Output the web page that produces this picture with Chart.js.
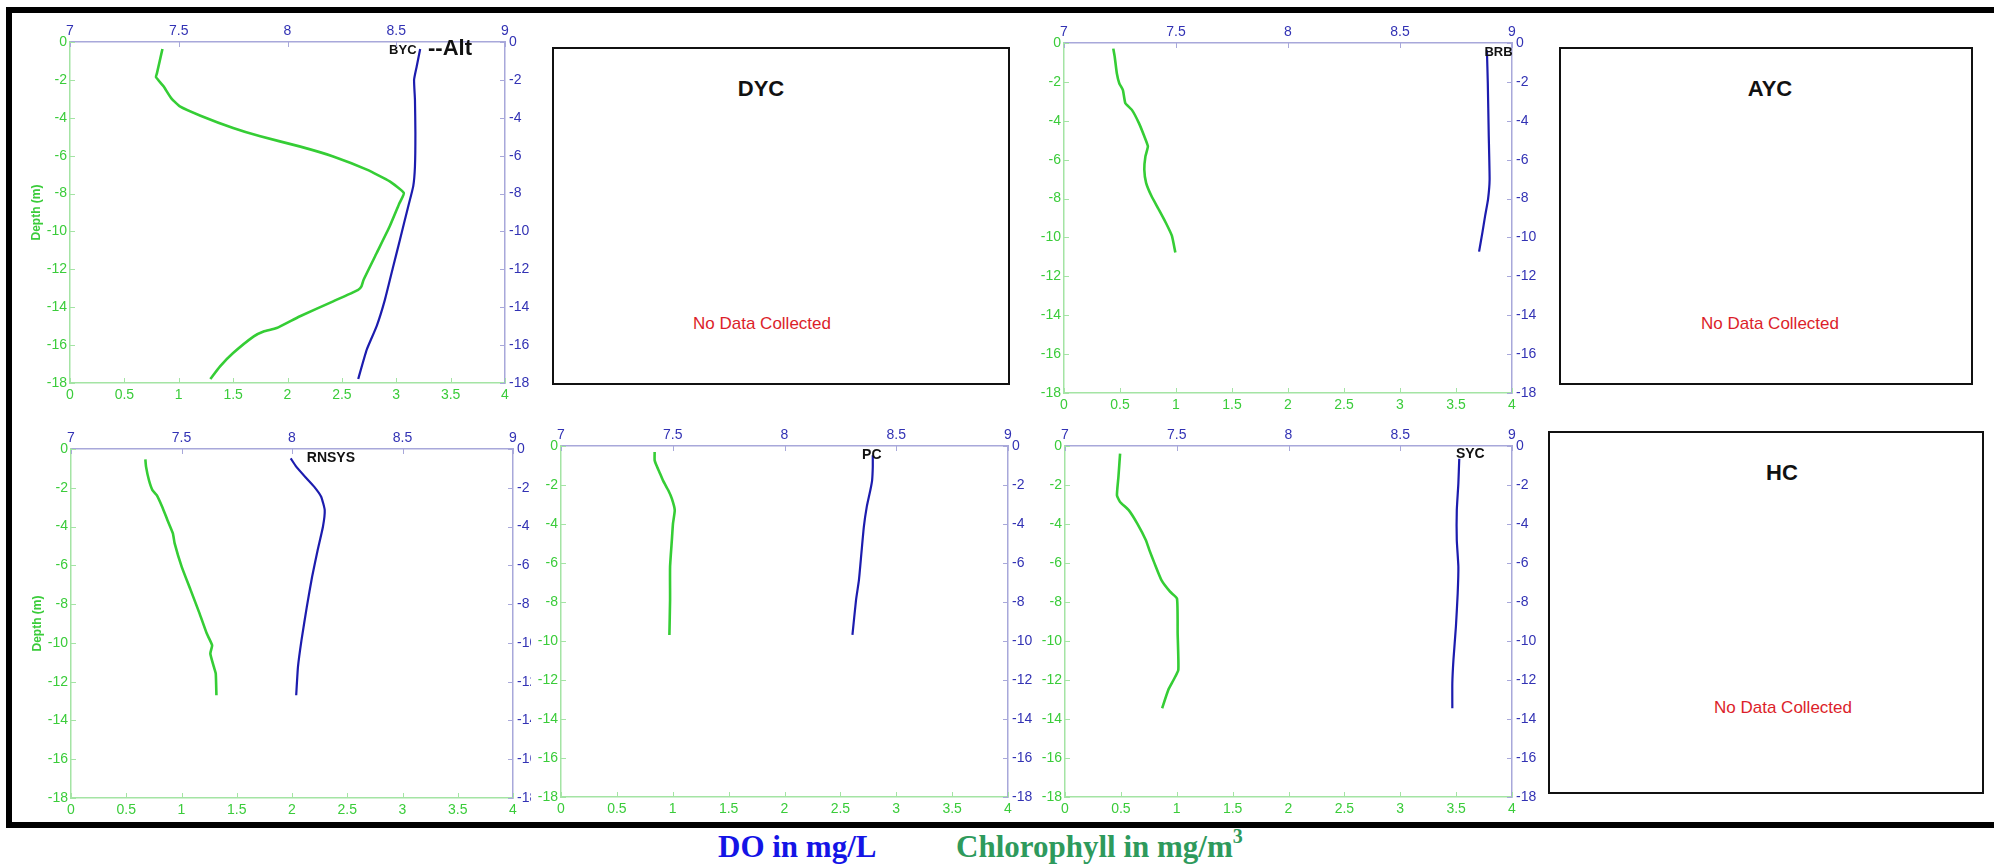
<!DOCTYPE html>
<html lang="en">
<head>
<meta charset="UTF-8">
<title>DO and Chlorophyll depth profiles</title>
<script src="https://cdn.jsdelivr.net/npm/chart.js"></script>
<style>
  body { margin: 0; background: #fff; width: 1994px; height: 864px; position: relative; overflow: hidden;
         font-family: 'Liberation Sans', Arial, sans-serif; }
  canvas { position: absolute; }
  .frame { position: absolute; left: 6px; top: 7px; width: 2000px; height: 809px; z-index: 5;
           border-left: 6px solid #000; border-top: 6px solid #000; border-bottom: 6px solid #000; pointer-events: none; }
  .nodata { position: absolute; border: 2px solid #111; box-sizing: border-box; background: #fff; }
  .txt { position: absolute; transform: translate(-50%, -50%); white-space: nowrap; }
  .name { font-weight: bold; font-size: 22px; color: #111; }
  .msg { font-size: 17px; color: #dc1e2a; }
  .cap { position: absolute; top: 831px; font-family: 'Liberation Serif', 'Times New Roman', serif;
         font-weight: bold; font-size: 31px; line-height: 31px; white-space: nowrap; }
</style>
</head>
<body>
<div class="frame"></div>

<div class="nodata" style="left:552px;top:47px;width:458px;height:338px;"></div>
<div class="txt name" style="left:761px;top:89px;">DYC</div>
<div class="txt msg" style="left:762px;top:324px;">No Data Collected</div>

<div class="nodata" style="left:1559px;top:47px;width:414px;height:338px;"></div>
<div class="txt name" style="left:1770px;top:89px;">AYC</div>
<div class="txt msg" style="left:1770px;top:324px;">No Data Collected</div>

<div class="nodata" style="left:1548px;top:431px;width:436px;height:363px;"></div>
<div class="txt name" style="left:1782px;top:473px;">HC</div>
<div class="txt msg" style="left:1783px;top:708px;">No Data Collected</div>

<div class="cap" style="left:718px;color:#1414e6;">DO in mg/L</div>
<div class="cap" style="left:956px;color:#2e9a5c;">Chlorophyll in mg/m<span style="font-size:20px;position:relative;top:-14px;">3</span></div>

<script>
// tick labels
const depthTicks = [0, -2, -4, -6, -8, -10, -12, -14, -16, -18];
const chlTicks = [0, 0.5, 1, 1.5, 2, 2.5, 3, 3.5, 4];
const doTicks = [7, 7.5, 8, 8.5, 9];

// BYC
const bycChlDepth = [-0.37, -1.64, -1.85, -2.34, -2.96, -3.4, -3.89, -4.54, -4.98, -5.51, -6.04, -6.74, -7.36, -7.97, -8.5, -9.73, -11.14, -12.55, -12.9, -13.08, -13.69, -14.49, -15.1, -15.28, -15.54, -16.42, -17.12, -17.79];
const bycChl = [0.85, 0.80, 0.79, 0.86, 0.93, 1.01, 1.20, 1.50, 1.75, 2.11, 2.42, 2.73, 2.94, 3.07, 3.03, 2.94, 2.82, 2.70, 2.68, 2.65, 2.42, 2.11, 1.90, 1.78, 1.69, 1.50, 1.38, 1.29];
const bycDODepth = [-0.37, -1.29, -1.99, -3.05, -4.81, -6.57, -7.62, -8.68, -10.44, -11.85, -13.6, -15.0, -16.25, -17.79];
const bycDO = [8.61, 8.594, 8.582, 8.586, 8.588, 8.586, 8.578, 8.555, 8.517, 8.486, 8.448, 8.41, 8.364, 8.325];

// BRB
const brbChlDepth = [-0.29, -0.72, -1.57, -2.08, -2.42, -3.1, -3.44, -4.12, -4.8, -5.32, -5.83, -6.51, -7.19, -7.87, -8.55, -9.23, -9.91, -10.77];
const brbChl = [0.44, 0.453, 0.472, 0.494, 0.526, 0.548, 0.606, 0.669, 0.717, 0.749, 0.727, 0.717, 0.733, 0.781, 0.845, 0.908, 0.963, 0.994];
const brbDODepth = [-0.37, -2.08, -4.63, -7.02, -8.04, -8.89, -9.74, -10.73];
const brbDO = [8.888, 8.892, 8.896, 8.9, 8.893, 8.88, 8.868, 8.853];

// RNSYS
const rnsChlDepth = [-0.53, -0.91, -1.6, -2.12, -2.38, -2.98, -3.67, -4.35, -4.87, -6.08, -7.28, -8.49, -9.52, -10.12, -10.55, -11.24, -11.58, -12.7];
const rnsChl = [0.673, 0.679, 0.705, 0.737, 0.776, 0.825, 0.873, 0.922, 0.938, 1.002, 1.083, 1.164, 1.229, 1.277, 1.261, 1.293, 1.31, 1.316];
const rnsDODepth = [-0.48, -0.91, -1.43, -1.94, -2.46, -3.15, -4.01, -5.22, -6.59, -8.14, -9.86, -11.24, -12.7];
const rnsDO = [7.994, 8.019, 8.059, 8.1, 8.132, 8.148, 8.14, 8.116, 8.091, 8.067, 8.043, 8.027, 8.019];

// PC
const pcChlDepth = [-0.31, -0.73, -0.99, -1.33, -1.76, -2.27, -2.7, -3.29, -3.98, -4.83, -6.19, -7.9, -9.69];
const pcChl = [0.838, 0.838, 0.854, 0.88, 0.912, 0.96, 0.992, 1.018, 1.002, 0.992, 0.976, 0.976, 0.97];
const pcDODepth = [-0.48, -1.08, -1.76, -2.27, -3.12, -4.15, -5.51, -6.88, -7.9, -9.69];
const pcDO = [8.395, 8.395, 8.392, 8.384, 8.368, 8.355, 8.344, 8.333, 8.32, 8.304];

// SYC
const sycChlDepth = [-0.39, -1.59, -2.53, -2.87, -3.29, -3.98, -4.83, -5.34, -6.02, -6.88, -7.47, -7.82, -9.61, -11.48, -12.0, -12.51, -13.45];
const sycChl = [0.493, 0.478, 0.465, 0.493, 0.57, 0.647, 0.724, 0.755, 0.801, 0.863, 0.94, 1.002, 1.008, 1.014, 0.971, 0.924, 0.869];
const sycDODepth = [-0.65, -1.93, -3.29, -4.83, -6.19, -7.56, -9.27, -10.97, -12.17, -13.45];
const sycDO = [8.764, 8.76, 8.753, 8.753, 8.76, 8.757, 8.749, 8.738, 8.733, 8.733];

const GREEN = '#35cd35';
const GREEN_TXT = '#3acc3a';
const GREEN_AXIS = '#a4e4a4';
const BLUE = '#1c1cae';
const BLUE_TXT = '#3232b4';
const BLUE_AXIS = '#a8a8da';
const FONT = "'Liberation Sans', Arial, sans-serif";

Chart.defaults.font.family = FONT;

function pairs(xs, ys) {
    return xs.map((v, i) => ({ x: v, y: ys[i] }));
}

// MATLAB style ticks pointing into the plot
const innerTicks = {
    id: 'innerTicks',
    afterDraw(chart) {
        const ctx = chart.ctx, a = chart.chartArea;
        ctx.save();
        ctx.lineWidth = 1;
        Object.values(chart.scales).forEach(s => {
            ctx.strokeStyle = s.options.border.color;
            s.ticks.forEach(t => {
                const p = Math.round(s.getPixelForValue(t.value)) + 0.5;
                ctx.beginPath();
                if (s.position === 'bottom') { ctx.moveTo(p, a.bottom); ctx.lineTo(p, a.bottom - 5); }
                if (s.position === 'top') { ctx.moveTo(p, a.top); ctx.lineTo(p, a.top + 5); }
                if (s.position === 'left') { ctx.moveTo(a.left, p); ctx.lineTo(a.left + 5, p); }
                if (s.position === 'right') { ctx.moveTo(a.right, p); ctx.lineTo(a.right - 5, p); }
                ctx.stroke();
            });
        });
        ctx.restore();
    }
};

function labelPlugin(items) {
    return {
        id: 'stationLabel',
        afterDatasetsDraw(chart) {
            const ctx = chart.ctx;
            const xs = chart.scales.xDO, ys = chart.scales.yR;
            ctx.save();
            ctx.fillStyle = '#111';
            ctx.textAlign = 'left';
            ctx.textBaseline = 'middle';
            items.forEach(it => {
                ctx.font = 'bold ' + it.size + 'px ' + FONT;
                ctx.fillText(it.text, xs.getPixelForValue(it.doVal), ys.getPixelForValue(it.depth));
            });
            ctx.restore();
        }
    };
}

function fixedTicks(list) {
    return scale => { scale.ticks = list.map(v => ({ value: v })); };
}

const plain = v => String(v);

function profile(box, chl, chlDepth, doVals, doDepth, labels, depthTitle) {
    const c = document.createElement('canvas');
    const w = box.R - box.L + box.ml + box.mr;
    const h = box.B - box.T + box.mt + box.mb;
    c.width = w; c.height = h;
    c.style.left = (box.L - box.ml) + 'px';
    c.style.top = (box.T - box.mt) + 'px';
    if (box.white) c.style.background = '#fff';
    document.body.appendChild(c);

    const tickFont = { size: 14 };
    new Chart(c, {
        type: 'scatter',
        data: {
            datasets: [
                { data: pairs(chl, chlDepth), xAxisID: 'xChl', yAxisID: 'yL', showLine: true,
                  borderColor: GREEN, borderWidth: 2.6, pointRadius: 0, tension: 0.15 },
                { data: pairs(doVals, doDepth), xAxisID: 'xDO', yAxisID: 'yR', showLine: true,
                  borderColor: BLUE, borderWidth: 2.2, pointRadius: 0, tension: 0.15 }
            ]
        },
        options: {
            responsive: false,
            animation: false,
            events: [],
            layout: { padding: 0, autoPadding: false },
            plugins: { legend: { display: false }, tooltip: { enabled: false } },
            scales: {
                xChl: {
                    type: 'linear', position: 'bottom', min: 0, max: 4,
                    afterBuildTicks: fixedTicks(chlTicks),
                    afterFit: s => { s.height = box.mb; },
                    grid: { drawOnChartArea: false, drawTicks: false },
                    border: { color: GREEN_AXIS, width: 1.5 },
                    ticks: { color: GREEN_TXT, font: tickFont, padding: 4, maxRotation: 0, autoSkip: false, callback: plain }
                },
                xDO: {
                    type: 'linear', position: 'top', min: 7, max: 9,
                    afterBuildTicks: fixedTicks(doTicks),
                    afterFit: s => { s.height = box.mt; },
                    grid: { drawOnChartArea: false, drawTicks: false },
                    border: { color: BLUE_AXIS, width: 1.5 },
                    ticks: { color: BLUE_TXT, font: tickFont, padding: 2, maxRotation: 0, autoSkip: false, callback: plain }
                },
                yL: {
                    type: 'linear', position: 'left', min: -18, max: 0,
                    afterBuildTicks: fixedTicks(depthTicks),
                    afterFit: s => { s.width = box.ml; },
                    grid: { drawOnChartArea: false, drawTicks: false },
                    border: { color: GREEN_AXIS, width: 1.5 },
                    ticks: { color: GREEN_TXT, font: tickFont, padding: 3, autoSkip: false, callback: plain },
                    title: { display: !!depthTitle, text: 'Depth (m)', color: GREEN_TXT,
                             font: { size: 12, weight: 'bold' }, padding: { top: 21, bottom: 0 } }
                },
                yR: {
                    type: 'linear', position: 'right', min: -18, max: 0,
                    afterBuildTicks: fixedTicks(depthTicks),
                    afterFit: s => { s.width = box.mr; },
                    grid: { drawOnChartArea: false, drawTicks: false },
                    border: { color: BLUE_AXIS, width: 1.5 },
                    ticks: { color: BLUE_TXT, font: tickFont, padding: 4, autoSkip: false, callback: plain }
                }
            }
        },
        plugins: [innerTicks, labelPlugin(labels)]
    });
}

profile({ L: 70, T: 42, R: 505, B: 383, ml: 62, mr: 40, mt: 30, mb: 30 },
    bycChl, bycChlDepth, bycDO, bycDODepth,
    [{ text: 'BYC', doVal: 8.467, depth: -0.44, size: 13 }, { text: '--Alt', doVal: 8.646, depth: -0.38, size: 22 }], true);

profile({ L: 1064, T: 43, R: 1512, B: 393, ml: 40, mr: 40, mt: 30, mb: 28 },
    brbChl, brbChlDepth, brbDO, brbDODepth,
    [{ text: 'BRB', doVal: 8.877, depth: -0.46, size: 13 }], false);

profile({ L: 71, T: 449, R: 513, B: 798, ml: 62, mr: 40, mt: 30, mb: 24 },
    rnsChl, rnsChlDepth, rnsDO, rnsDODepth,
    [{ text: 'RNSYS', doVal: 8.067, depth: -0.48, size: 14 }], true);

profile({ L: 561, T: 446, R: 1008, B: 797, ml: 30, mr: 40, mt: 30, mb: 24, white: true },
    pcChl, pcChlDepth, pcDO, pcDODepth,
    [{ text: 'PC', doVal: 8.347, depth: -0.48, size: 14 }], false);

profile({ L: 1065, T: 446, R: 1512, B: 797, ml: 30, mr: 40, mt: 30, mb: 24 },
    sycChl, sycChlDepth, sycDO, sycDODepth,
    [{ text: 'SYC', doVal: 8.749, depth: -0.44, size: 14 }], false);
</script>
</body>
</html>
